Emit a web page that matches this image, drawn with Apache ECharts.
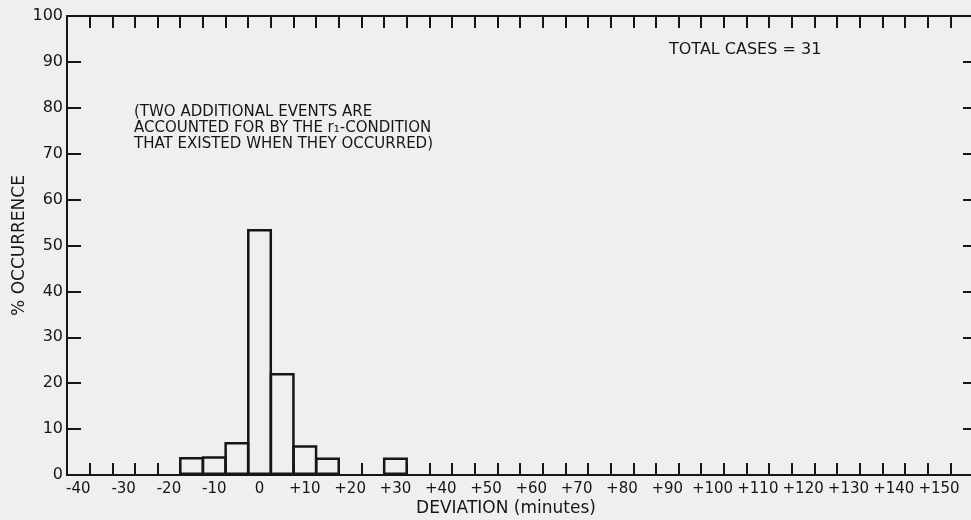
<!DOCTYPE html>
<html>
<head>
<meta charset="utf-8">
<script src="https://cdn.jsdelivr.net/npm/echarts@6/dist/echarts.min.js"></script>
<style>
html,body{margin:0;padding:0;background:#efefed;}
#chart{width:971px;height:520px;}
</style>
</head>
<body>
<div id="chart"></div>
<script>
// 5-minute deviation bins (category labels)
const categories = ['-40','-35','-30','-25','-20','-15','-10','-5','0','+5',
  '+10','+15','+20','+25','+30','+35','+40','+45','+50','+55',
  '+60','+65','+70','+75','+80','+85','+90','+95','+100','+105',
  '+110','+115','+120','+125','+130','+135','+140','+145','+150','+155'];
// bins that hold events and their % occurrence
const occupiedBins = ['-15','-10','-5','0','+5','+10','+15','+30'];
const percentOccurrence = [3.9, 4.1, 7.2, 53.6, 22.2, 6.5, 3.8, 3.8];
const yTicks = [0,10,20,30,40,50,60,70,80,90,100];
const totalCasesText = 'TOTAL CASES = 31';
const noteLines = ['(TWO ADDITIONAL EVENTS ARE', 'ACCOUNTED FOR BY THE r\u2081-CONDITION', 'THAT EXISTED WHEN THEY OCCURRED)'];

const seriesData = categories.map(c => {
  const i = occupiedBins.indexOf(c);
  return i >= 0 ? percentOccurrence[i] : null;
});

const ink = '#161616';
const font = 'DejaVu Sans';
const chart = echarts.init(document.getElementById('chart'));
chart.setOption({
  backgroundColor: '#efefed',
  animation: false,
  textStyle: {fontFamily: font, color: ink},
  grid: {left: 67, right: -2, top: 16, bottom: 45, containLabel: false, outerBoundsMode: 'none'},
  xAxis: [{
    type: 'category', data: categories, position: 'bottom', boundaryGap: true,
    axisLine: {onZero: false, lineStyle: {color: ink, width: 2}},
    axisTick: {show: true, inside: true, length: 12, interval: 0, lineStyle: {color: ink, width: 2}},
    axisLabel: {interval: 1, color: ink, fontSize: 15, fontFamily: font, margin: 7},
    splitLine: {show: false}
  }, {
    type: 'category', data: categories, position: 'top', boundaryGap: true,
    axisLine: {show: true, onZero: false, lineStyle: {color: ink, width: 2}},
    axisTick: {show: true, inside: true, length: 12, interval: 0, lineStyle: {color: ink, width: 2}},
    axisLabel: {show: false},
    splitLine: {show: false}
  }],
  yAxis: [{
    type: 'value', min: 0, max: 100, interval: 10, position: 'left',
    name: '% OCCURRENCE', nameLocation: 'middle', nameGap: 39, nameRotate: 90,
    nameMoveOverlap: false,
    nameTextStyle: {fontSize: 17, color: ink, fontFamily: font},
    axisLine: {show: true, onZero: false, lineStyle: {color: ink, width: 2}},
    axisTick: {show: true, inside: true, length: 14, lineStyle: {color: ink, width: 2}},
    axisLabel: {color: ink, fontSize: 16, fontFamily: font, margin: 4},
    splitLine: {show: false}
  }, {
    type: 'value', min: 0, max: 100, interval: 10, position: 'right',
    axisLine: {show: true, onZero: false, lineStyle: {color: ink, width: 2}},
    axisTick: {show: true, inside: true, length: 10, lineStyle: {color: ink, width: 2}},
    axisLabel: {show: false},
    splitLine: {show: false}
  }],
  series: [{
    type: 'bar', xAxisIndex: 0, yAxisIndex: 0,
    data: seriesData, barWidth: 25, barGap: '0%',
    itemStyle: {color: 'rgba(0,0,0,0)', borderColor: ink, borderWidth: 2.5}
  }],
  graphic: [{
    type: 'text', x: 669, y: 50,
    style: {text: totalCasesText, fontSize: 16, fontFamily: font, fill: ink, verticalAlign: 'middle'}
  }, {
    type: 'text', x: 134, y: 104,
    style: {text: noteLines.join('\n'), fontSize: 15, lineHeight: 16, fontFamily: font, fill: ink}
  }, {
    type: 'text', x: 506, y: 509,
    style: {text: 'DEVIATION (minutes)', fontSize: 17, fontFamily: font, fill: ink, align: 'center', verticalAlign: 'middle'}
  }]
});
</script>
</body>
</html>
